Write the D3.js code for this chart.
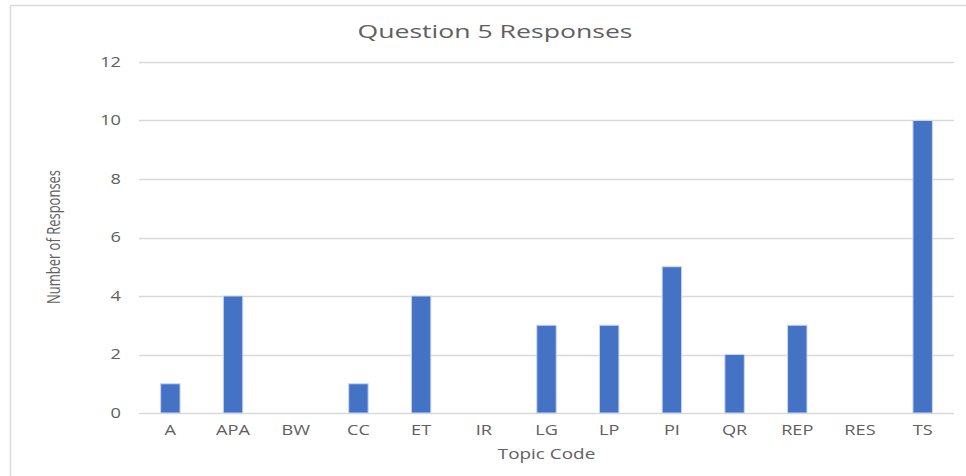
<!DOCTYPE html>
<html>
<head>
<meta charset="utf-8">
<script src="https://cdn.jsdelivr.net/npm/d3@7"></script>
<style>
  body { margin: 0; background: #fff; }
  text { font-family: "Open Sans", "Noto Sans", sans-serif; fill: #606060; }
  .tick text { font-size: 14px; }
  .title { font-size: 19px; }
  .axis-title { font-size: 14px; }
  .y-title { font-size: 13px; }
</style>
</head>
<body>
<div id="wrapper"></div>
<script>
const categories = ["A", "APA", "BW", "CC", "ET", "IR", "LG", "LP", "PI", "QR", "REP", "RES", "TS"]
const responses = [1, 4, 0, 1, 4, 0, 3, 3, 5, 2, 3, 0, 10]
const yTicks = [0, 2, 4, 6, 8, 10, 12]

function drawChart() {
  let dimensions = {
    width: 966,
    height: 476,
    margin: { top: 62, right: 12, bottom: 63, left: 139 },
  }
  dimensions.boundedWidth = dimensions.width - dimensions.margin.left - dimensions.margin.right
  dimensions.boundedHeight = dimensions.height - dimensions.margin.top - dimensions.margin.bottom

  // the original picture is stretched sideways, so text is widened to match
  const stretch = 1.3

  const wrapper = d3.select("#wrapper")
    .append("svg")
      .attr("width", dimensions.width)
      .attr("height", dimensions.height)

  // chart area frame (runs off the right and bottom edges)
  wrapper.append("rect")
      .attr("x", 10.5)
      .attr("y", 5.5)
      .attr("width", 970)
      .attr("height", 480)
      .attr("fill", "none")
      .attr("stroke", "#d9d9d9")
      .attr("stroke-width", 1.5)

  const bounds = wrapper.append("g")
      .attr("transform", `translate(${dimensions.margin.left},${dimensions.margin.top})`)

  const xScale = d3.scaleBand()
    .domain(categories)
    .range([0, dimensions.boundedWidth])
    .paddingInner(0.69)
    .paddingOuter(0.345)

  const yScale = d3.scaleLinear()
    .domain([0, 12])
    .range([dimensions.boundedHeight, 0])

  // gridlines
  bounds.append("g")
    .selectAll("line")
    .data(yTicks)
    .enter().append("line")
      .attr("x1", 0)
      .attr("x2", dimensions.boundedWidth)
      .attr("y1", d => Math.round(yScale(d)) + 0.5)
      .attr("y2", d => Math.round(yScale(d)) + 0.5)
      .attr("stroke", "#d9d9d9")
      .attr("stroke-width", 1.3)

  const yAxis = bounds.append("g")
      .attr("transform", "translate(-18,0)")
      .call(d3.axisLeft(yScale).tickValues(yTicks).tickSize(0).tickPadding(0))
  yAxis.select(".domain").remove()

  const xAxis = bounds.append("g")
      .attr("transform", `translate(0,${dimensions.boundedHeight})`)
      .call(d3.axisBottom(xScale).tickSize(0).tickPadding(12))
  xAxis.select(".domain").remove()
  d3.selectAll(".tick text")
      .attr("font-family", null)
      .attr("font-size", null)
      .attr("transform", `scale(${stretch},1)`)

  bounds.selectAll(".bar")
    .data(responses)
    .enter().append("rect")
      .attr("class", "bar")
      .attr("x", (d, i) => xScale(categories[i]))
      .attr("y", d => yScale(d))
      .attr("width", xScale.bandwidth())
      .attr("height", d => yScale(0) - yScale(d))
      .attr("fill", "#4472c4")
      .attr("stroke", d => d > 0 ? "#c9d5ee" : "none")
      .attr("stroke-width", 1)

  wrapper.append("text")
      .attr("class", "title")
      .attr("transform", `translate(495,38) scale(1.4,1)`)
      .attr("text-anchor", "middle")
      .text("Question 5 Responses")

  wrapper.append("text")
      .attr("class", "axis-title")
      .attr("transform", `translate(${dimensions.margin.left + dimensions.boundedWidth / 2},459) scale(1.35,1)`)
      .attr("text-anchor", "middle")
      .text("Topic Code")

  wrapper.append("text")
      .attr("class", "y-title")
      .attr("transform", `translate(60,237) rotate(-90) scale(1,1.4)`)
      .attr("text-anchor", "middle")
      .text("Number of Responses")
}
drawChart()
</script>
</body>
</html>
